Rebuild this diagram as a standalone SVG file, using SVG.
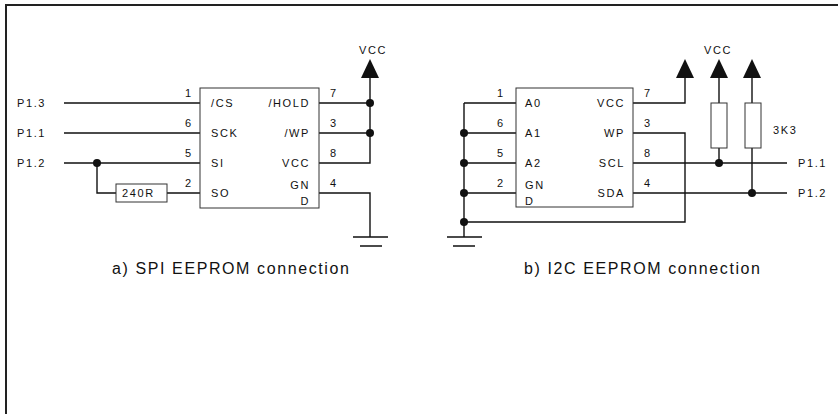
<svg xmlns="http://www.w3.org/2000/svg" width="838" height="414" viewBox="0 0 838 414">
<style>
text{font-family:"Liberation Sans",Arial,sans-serif;font-size:11px;fill:#111;letter-spacing:1.6px}
.cap{font-size:16px;letter-spacing:1.6px}
.w{stroke:#111;stroke-width:1.4;fill:none}
.box{stroke:#333;stroke-width:1;fill:#fff}
.dot{fill:#111}
.arr{fill:#111}
.e{text-anchor:end}
</style>
<rect width="838" height="414" fill="#fff"/>
<path d="M6,414 V5 H838" stroke="#222" stroke-width="2" fill="none"/>
<g id="connectors">
<path class="w" d="M64,103H200 M64,133H200 M64,163H200 M97,163V193H116 M167,193H200"/>
<path class="w" d="M319,103H370 M319,133H370 M319,163H370V76 M319,193H370V237"/>
<path class="w" d="M353,237H388 M360,246H382"/>
<path class="w" d="M464,103H516 M464,133H516 M464,163H516 M464,193H516 M464,103V237 M464,222H685V133H633"/>
<path class="w" d="M447,237H482 M453,246H475"/>
<path class="w" d="M633,103H685V76 M719,76V103 M752,76V103 M719,148V163 M752,148V193 M633,163H787 M633,193H787"/>
<circle class="dot" cx="370" cy="103" r="4"/>
<circle class="dot" cx="370" cy="133" r="4"/>
<circle class="dot" cx="97" cy="163" r="4"/>
<circle class="dot" cx="464" cy="133" r="4"/>
<circle class="dot" cx="464" cy="163" r="4"/>
<circle class="dot" cx="464" cy="193" r="4"/>
<circle class="dot" cx="464" cy="222" r="4"/>
<circle class="dot" cx="719" cy="163" r="4"/>
<circle class="dot" cx="752" cy="193" r="4"/>
</g>
<g id="vcc-a">
<polygon class="arr" points="370,59 361,78 379,78"/>
<text x="359" y="54">VCC</text>
</g>
<g id="vcc-b1"><polygon class="arr" points="685,59 676,78 694,78"/></g>
<g id="vcc-b2"><polygon class="arr" points="719,59 710,78 728,78"/><text x="704" y="54">VCC</text></g>
<g id="vcc-b3"><polygon class="arr" points="752,59 743,78 761,78"/></g>
<g id="labels-a">
<text x="17" y="107">P1.3</text>
<text x="17" y="137">P1.1</text>
<text x="17" y="167">P1.2</text>
<text x="185" y="97">1</text>
<text x="185" y="127">6</text>
<text x="185" y="157">5</text>
<text x="185" y="187">2</text>
<text x="330" y="97">7</text>
<text x="330" y="127">3</text>
<text x="330" y="157">8</text>
<text x="330" y="187">4</text>
</g>
<g id="ic-a">
<rect class="box" x="200" y="88" width="119" height="120"/>
<text x="211" y="107">/CS</text>
<text x="211" y="137">SCK</text>
<text x="211" y="167">SI</text>
<text x="211" y="197">SO</text>
<text class="e" x="310" y="107">/HOLD</text>
<text class="e" x="310" y="137">/WP</text>
<text class="e" x="310" y="167">VCC</text>
<text class="e" x="310" y="189">GN</text>
<text class="e" x="310" y="205">D</text>
</g>
<g id="r240">
<rect class="box" x="116" y="184" width="51" height="18"/>
<text x="122" y="197">240R</text>
</g>
<g id="ic-b">
<rect class="box" x="516" y="88" width="117" height="119"/>
<text x="525" y="107">A0</text>
<text x="525" y="137">A1</text>
<text x="525" y="167">A2</text>
<text x="525" y="189">GN</text>
<text x="525" y="205">D</text>
<text class="e" x="625" y="107">VCC</text>
<text class="e" x="625" y="137">WP</text>
<text class="e" x="625" y="167">SCL</text>
<text class="e" x="625" y="197">SDA</text>
</g>
<g id="labels-b">
<text x="497" y="97">1</text>
<text x="497" y="127">6</text>
<text x="497" y="157">5</text>
<text x="497" y="187">2</text>
<text x="644" y="97">7</text>
<text x="644" y="127">3</text>
<text x="644" y="157">8</text>
<text x="644" y="187">4</text>
<text x="798" y="167">P1.1</text>
<text x="798" y="197">P1.2</text>
<text x="773" y="134">3K3</text>
</g>
<g id="r-pullup1"><rect class="box" x="711" y="103" width="16" height="45"/></g>
<g id="r-pullup2"><rect class="box" x="745" y="103" width="16" height="45"/></g>
<g id="captions">
<text class="cap" x="112" y="274">a) SPI EEPROM connection</text>
<text class="cap" x="524" y="274">b) I2C EEPROM connection</text>
</g>
</svg>
